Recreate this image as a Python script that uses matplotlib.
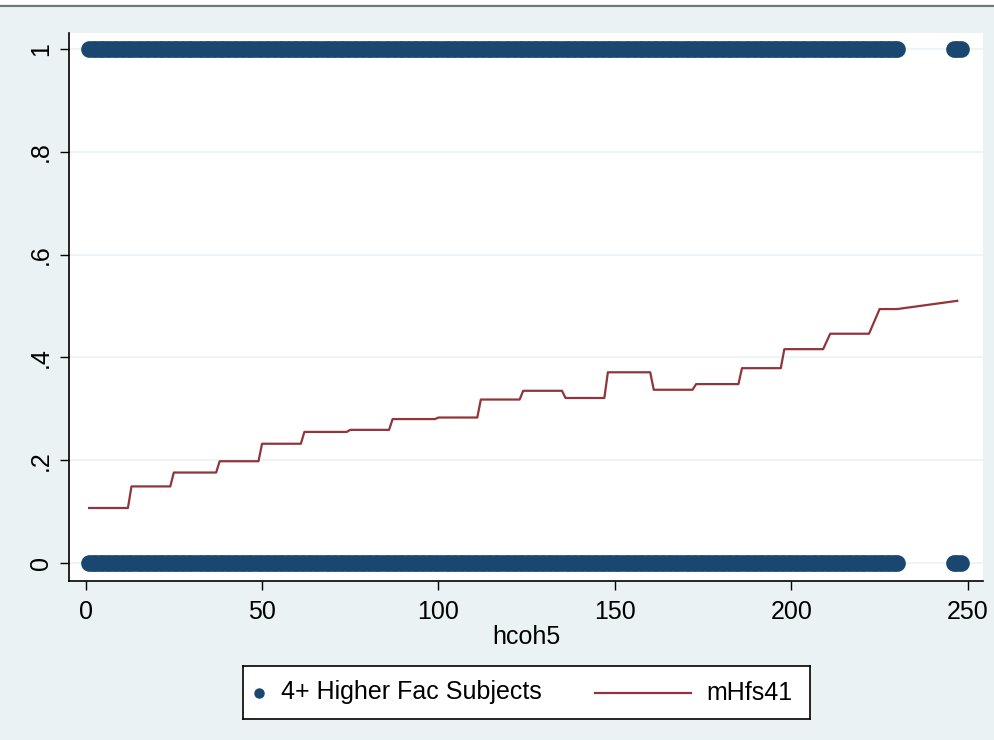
"""Stata-style scatter of 4+ Higher Fac Subjects against hcoh5 with mHfs41 step line."""
import numpy as np
import matplotlib

matplotlib.use("Agg")
import matplotlib.pyplot as plt
from matplotlib.lines import Line2D
from matplotlib.patches import Rectangle

plt.rcParams["font.family"] = ["Liberation Sans", "DejaVu Sans"]

# observed hcoh5 values (bands look continuous in the picture)
hcoh5_ranges = [(1, 230), (246, 248)]
outcome_levels = [0, 1]

# mHfs41: mean within each hcoh5 group (start, end, level)
grp_start = [1, 13, 25, 38, 50, 62, 75, 87, 100, 112, 124, 136, 148, 161, 173, 186, 198, 211, 225, 247]
grp_end = [12, 24, 37, 49, 61, 74, 86, 99, 111, 123, 135, 147, 160, 172, 185, 197, 209, 222, 230, 247]
grp_level = [0.107, 0.149, 0.176, 0.198, 0.232, 0.255, 0.259, 0.280, 0.283, 0.318,
             0.335, 0.321, 0.371, 0.337, 0.348, 0.379, 0.416, 0.446, 0.494, 0.510]

x_ticks = [0, 50, 100, 150, 200, 250]
y_ticks = [0, 0.2, 0.4, 0.6, 0.8, 1.0]
y_ticklabels = ["0", ".2", ".4", ".6", ".8", "1"]

BG = "#eaf2f3"
NAVY = "#1a476f"
MAROON = "#90353b"

W, H = 995, 740
fig = plt.figure(figsize=(W / 100, H / 100), dpi=100, facecolor=BG)
ax = fig.add_axes([69 / W, 1 - 581 / H, (983 - 69) / W, (581 - 33) / H])
ax.set_facecolor("white")

hx = np.concatenate([np.arange(a, b + 1) for a, b in hcoh5_ranges])
for lvl in outcome_levels:
    ax.plot(hx, np.full(len(hx), lvl), "o", ms=11, color=NAVY, mec=NAVY, zorder=3)

# build step vertices
sx, sy = [], []
for a, b, v in zip(grp_start, grp_end, grp_level):
    sx.extend([a, b])
    sy.extend([v, v])
ax.plot(sx, sy, color=MAROON, lw=1.6, zorder=4)

ax.set_xlim(-4.7, 254.3)
ax.set_ylim(-0.035, 1.031)
ax.set_xticks(x_ticks)
ax.set_yticks(y_ticks)
ax.set_yticklabels(y_ticklabels)
ax.tick_params(axis="both", direction="out", length=6.5, width=1.0, labelsize=18, pad=7)
ax.tick_params(axis="y", labelrotation=90, pad=5)
for lab in ax.get_yticklabels():
    lab.set_va("center")
ax.grid(axis="y", color=BG, lw=1.2, zorder=0)
ax.set_axisbelow(True)
for side in ("top", "right"):
    ax.spines[side].set_visible(False)
for side in ("left", "bottom"):
    ax.spines[side].set_linewidth(1.2)
ax.set_xlabel("hcoh5", fontsize=18, labelpad=1)

# legend box, drawn by hand so the marker and line keys sit like Stata's
lax = fig.add_axes([243 / W, 1 - 719 / H, (810 - 243) / W, (719 - 666) / H])
lax.set_xlim(0, 567)
lax.set_ylim(0, 53)
lax.set_xticks([])
lax.set_yticks([])
lax.set_facecolor("white")
for s in lax.spines.values():
    s.set_linewidth(1.2)
    s.set_color("black")
lax.plot([16], [26.5], "o", ms=6.5, color=NAVY)
lax.text(38, 26.5, "4+ Higher Fac Subjects", fontsize=18, va="center", ha="left")
lax.plot([352, 448], [26.5, 26.5], color=MAROON, lw=1.6)
lax.text(463, 26.5, "mHfs41", fontsize=18, va="center", ha="left")

# window edge at the very top
fig.add_artist(Rectangle((0, 1 - 4 / H), 1, 4 / H, transform=fig.transFigure,
                         facecolor="white", edgecolor="none"))
fig.add_artist(Line2D([0, 1], [1 - 5.5 / H, 1 - 5.5 / H], transform=fig.transFigure,
                      color="#777777", lw=1.5))

fig.savefig("out.png", dpi=100, facecolor=BG)
plt.close(fig)
